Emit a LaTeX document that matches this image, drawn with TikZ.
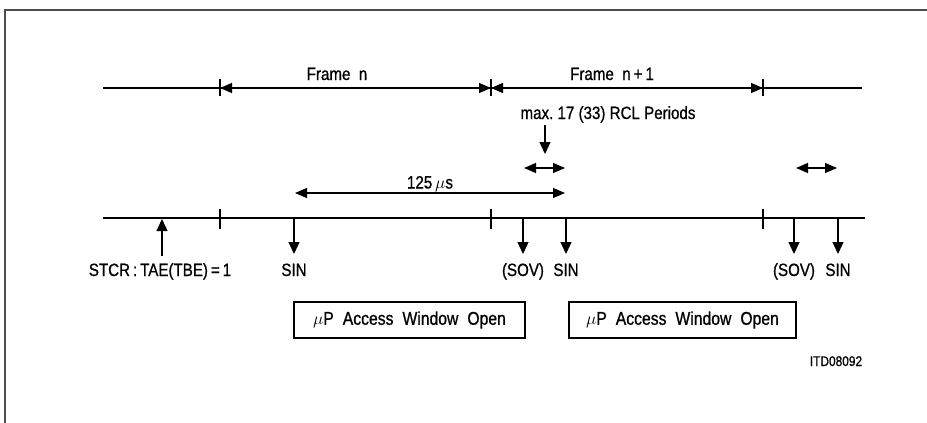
\documentclass[tikz,border=0pt]{standalone}
\usepackage{fontspec}
\setmainfont{Liberation Sans}[FakeStretch=0.85,FakeBold=0.8]
\usetikzlibrary{arrows.meta}
\newcommand{\wsp}{\hspace{9pt}}
\tikzset{
  lbl/.style={inner sep=0pt, anchor=base, font=\fontsize{17.8}{20}\selectfont},
  dim/.style={line width=1.2pt, {Triangle[length=12pt,width=10pt]}-{Triangle[length=12pt,width=10pt]}},
  sig/.style={line width=1.3pt, -{Triangle[length=12pt,width=11pt]}},
  tick/.style={line width=1.2pt},
  winbox/.style={draw, line width=2.5pt, minimum width=231pt, minimum height=36pt, inner sep=0pt, font=\fontsize{18.5}{20}\selectfont},
}
\begin{document}
\begin{tikzpicture}[x=1pt,y=-1pt]
\useasboundingbox (0,0) rectangle (927,423);
% border
\draw[line width=1.5pt, black!70] (927,10) -- (5,10) -- (5,423);
% top frame line
\coordinate (ta) at (103,88);
\coordinate (tb) at (862,88);
\coordinate (f0) at (220,88);
\coordinate (f1) at (491,88);
\coordinate (f2) at (763,88);
\draw[line width=1.4pt] (ta) -- (tb);
\foreach \n in {f0,f1,f2} \draw[tick] ([yshift=-8pt]\n) -- ([yshift=9pt]\n);
\draw[dim] (f0) -- (f1);
\draw[dim] (f1) -- (f2);
\node[lbl] (fn) at (337,80) {Frame\ \ n};
\node[lbl] (fn1) at (612,80) {Frame\ \ n\,+\,1};
\node[lbl] (maxl) at (608,119) {max.\ 17 (33) RCL Periods};
\coordinate (va) at (545,125);
\coordinate (vb) at (545,154);
\draw[sig] (va) -- (vb);
\coordinate (d1a) at (524,168); \coordinate (d1b) at (565,168);
\coordinate (d2a) at (796,168); \coordinate (d2b) at (837,168);
\draw[dim] (d1a) -- (d1b);
\draw[dim] (d2a) -- (d2b);
% 125 us
\coordinate (ua) at (295,193); \coordinate (ub) at (565,193);
\draw[dim] (ua) -- (ub);
\node[lbl] (us) at (430,188.5) {125\,$\mu$s};
% main line
\coordinate (ma) at (103,218);
\coordinate (mb) at (865,218);
\draw[line width=2.5pt] (ma) -- (mb);
\coordinate (m0) at (220,218);
\coordinate (m1) at (491,218);
\coordinate (m2) at (763,218);
\foreach \n in {m0,m1,m2} \draw[tick] ([yshift=-11pt]\n) -- ([yshift=9pt]\n);
% signals
\coordinate (st0) at (162,256); \coordinate (st1) at (162,219);
\draw[sig] (st0) -- (st1);
\foreach \x/\nm in {294/s1,523/s2,566/s3,794/s4,838/s5}{
  \coordinate (\nm a) at (\x,219);
  \coordinate (\nm b) at (\x,254);
  \draw[sig] (\nm a) -- (\nm b);
}
\node[lbl] (stcr) at (160,276) {STCR\,:\,TAE(TBE)\,=\,1};
\node[lbl] (sin1) at (294,276) {SIN};
\node[lbl] (sov1) at (523,276) {(SOV)};
\node[lbl] (sin2) at (566,276) {SIN};
\node[lbl] (sov2) at (794,276) {(SOV)};
\node[lbl] (sin3) at (838,276) {SIN};
% windows
\node[winbox] (w1) at (409.5,320) {$\mu$P\wsp Access\wsp Window\wsp Open};
\node[winbox, minimum width=227pt] (w2) at (682.5,320) {$\mu$P\wsp Access\wsp Window\wsp Open};
\node[lbl, font=\fontsize{14}{16}\selectfont] (itd) at (836,366) {ITD08092};
\end{tikzpicture}
\end{document}
